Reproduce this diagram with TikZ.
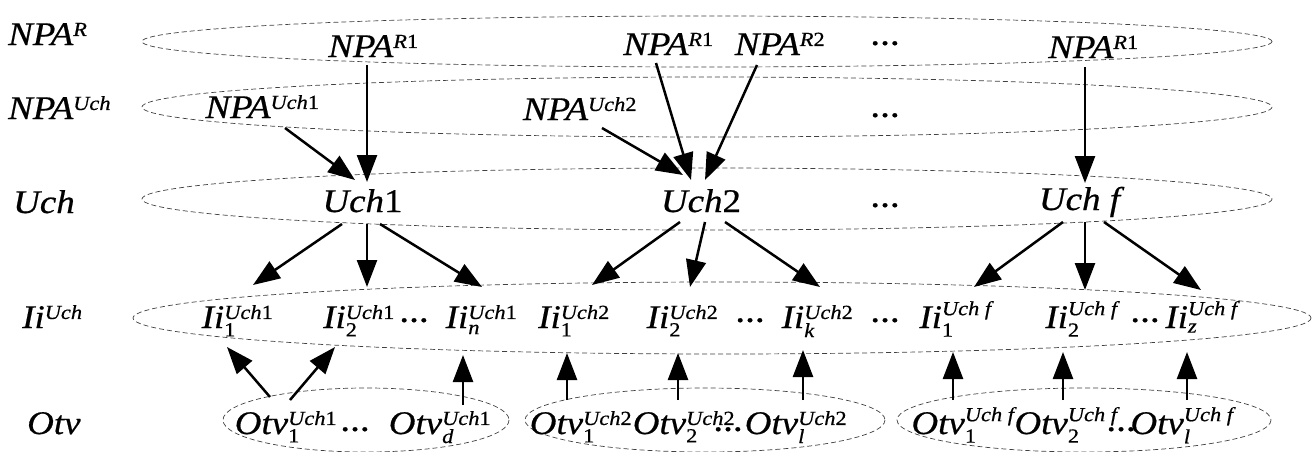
\documentclass[tikz,border=0pt]{standalone}
\usepackage{amsmath}
\usepackage{fontspec}
\newfontfamily\diafont{Liberation Serif}[FakeStretch=1.12, FakeBold=0.6]
\DeclareMathSizes{33}{33}{20}{15}
\usetikzlibrary{arrows.meta}
\newcommand{\supr}[1]{$^{\text{#1}}$}
\newcommand{\supsub}[2]{$^{\text{#1}}_{\text{#2}}$}
\begin{document}
\begin{tikzpicture}[x=1pt, y=-1pt,
        lbl/.style={inner sep=0pt, anchor=base, font=\diafont\fontsize{33}{40}\selectfont\itshape},
        rowlbl/.style={lbl, anchor=base west},
        etc/.style={inner sep=0pt, anchor=base, font=\diafont\fontsize{26}{30}\selectfont\bfseries},
        band/.style={draw=black!75, line width=0.7pt, dash pattern=on 5pt off 3pt},
        arrow/.style={-{Triangle[length=27pt,width=20pt]}, line width=2.5pt}
    ]
    \useasboundingbox (0,0) rectangle (1314,451);

    % levels
    \draw[band] (707,41.5) ellipse (565 and 25.5);
    \draw[band] (707,107) ellipse (565 and 30);
    \draw[band] (707,199) ellipse (565 and 31);
    \draw[band] (722,318) ellipse (589 and 36);
    \draw[band] (366,420) ellipse (143 and 32);
    \draw[band] (705,420) ellipse (180 and 32);
    \draw[band] (1084,420) ellipse (187 and 32);

    % row names
    \node[rowlbl] (lr) at (8,45) {NPA\supr{R}};
    \node[rowlbl] (lu) at (8,119) {NPA\supr{Uch}};
    \node[rowlbl] (lc) at (13,213) {Uch};
    \node[rowlbl] (li) at (22,328) {Ii\supr{Uch}};
    \node[rowlbl] (lo) at (27,434) {Otv};

    % NPA^R
    \node[lbl] (ra) at (373.5,57) {NPA\supr{R\textup{1}}};
    \node[lbl] (rb) at (668.5,55) {NPA\supr{R\textup{1}}};
    \node[lbl] (rc) at (780,55) {NPA\supr{R\textup{2}}};
    \node[lbl] (rd) at (1093.5,58) {NPA\supr{R\textup{1}}};
    \node[etc] (er) at (885,45) {\dots};

    % NPA^Uch
    \node[lbl] (ua) at (262.5,118) {NPA\supr{Uch\textup{1}}};
    \node[lbl] (ub) at (580,120) {NPA\supr{Uch\textup{2}}};
    \node[etc] (eu) at (885,117) {\dots};

    % Uch
    \node[lbl] (ca) at (362.5,212) {Uch\textup{1}};
    \node[lbl] (cb) at (701,212) {Uch\textup{2}};
    \node[lbl] (cf) at (1079.5,210) {Uch f};
    \node[etc] (ec) at (885,207) {\dots};

    % Ii^Uch
    \node[lbl] (ia1) at (237.5,328) {Ii\supsub{Uch\textup{1}}{\textup{1}}};
    \node[lbl] (ia2) at (359,328) {Ii\supsub{Uch\textup{1}}{\textup{2}}};
    \node[lbl] (ian) at (481.5,328) {Ii\supsub{Uch\textup{1}}{n}};
    \node[lbl] (ib1) at (574,328) {Ii\supsub{Uch\textup{2}}{\textup{1}}};
    \node[lbl] (ib2) at (682.5,328) {Ii\supsub{Uch\textup{2}}{\textup{2}}};
    \node[lbl] (ibk) at (817.5,328) {Ii\supsub{Uch\textup{2}}{k}};
    \node[lbl] (if1) at (955.5,328) {Ii\supsub{Uch f}{\textup{1}}};
    \node[lbl] (if2) at (1081.5,328) {Ii\supsub{Uch f}{\textup{2}}};
    \node[lbl] (ifz) at (1201.5,328) {Ii\supsub{Uch f}{z}};
    \node[etc] (ei1) at (414,322) {\dots};
    \node[etc] (ei2) at (750,322) {\dots};
    \node[etc] (ei3) at (885,322) {\dots};
    \node[etc] (ei4) at (1145,322) {\dots};

    % Otv
    \node[lbl] (oa1) at (286,434) {Otv\supsub{Uch\textup{1}}{\textup{1}}};
    \node[lbl] (oad) at (440,434) {Otv\supsub{Uch\textup{1}}{d}};
    \node[lbl] (ob1) at (581,434) {Otv\supsub{Uch\textup{2}}{\textup{1}}};
    \node[lbl] (ob2) at (684,434) {Otv\supsub{Uch\textup{2}}{\textup{2}}};
    \node[lbl] (obl) at (796,434) {Otv\supsub{Uch\textup{2}}{l}};
    \node[lbl] (of1) at (963,434) {Otv\supsub{Uch f}{\textup{1}}};
    \node[lbl] (of2) at (1066,434) {Otv\supsub{Uch f}{\textup{2}}};
    \node[lbl] (ofl) at (1182,434) {Otv\supsub{Uch f}{l}};
    \node[etc] (eo1) at (355,431) {\dots};
    \node[etc] (eo2) at (728,431) {\dots};
    \node[etc] (eo3) at (1121,431) {\dots};

    % NPA -> Uch
    \draw[arrow] ([shift={(-6.5,8)}]ra.base) -- ([shift={(4.5,-30)}]ca.base);
    \draw[arrow] ([shift={(22.5,10)}]ua.base) -- ([shift={(-7.5,-32)}]ca.base);
    \draw[arrow] ([shift={(-12.5,8)}]rb.base) -- ([shift={(-10,-32)}]cb.base);
    \draw[arrow] ([shift={(-23,10)}]rc.base) -- ([shift={(4,-32)}]cb.base);
    \draw[arrow] ([shift={(22,8)}]ub.base) -- ([shift={(-18,-37)}]cb.base);
    \draw[arrow] ([shift={(-8.5,9)}]rd.base) -- ([shift={(5.5,-27)}]cf.base);

    % Uch -> Ii
    \draw[arrow] ([shift={(-20.5,12)}]ca.base) -- ([shift={(15.5,-43)}]ia1.base);
    \draw[arrow] ([shift={(4.5,12)}]ca.base) -- ([shift={(8,-41)}]ia2.base);
    \draw[arrow] ([shift={(17.5,12)}]ca.base) -- ([shift={(0.5,-41)}]ian.base);
    \draw[arrow] ([shift={(-21,10)}]cb.base) -- ([shift={(18,-43)}]ib1.base);
    \draw[arrow] ([shift={(4,10)}]cb.base) -- ([shift={(7.5,-41)}]ib2.base);
    \draw[arrow] ([shift={(24,10)}]cb.base) -- ([shift={(2.5,-41)}]ibk.base);
    \draw[arrow] ([shift={(-16.5,12)}]cf.base) -- ([shift={(18.5,-41)}]if1.base);
    \draw[arrow] ([shift={(5.5,12)}]cf.base) -- ([shift={(3.5,-38)}]if2.base);
    \draw[arrow] ([shift={(24.5,12)}]cf.base) -- ([shift={(-0.5,-38)}]ifz.base);

    % Otv -> Ii
    \draw[arrow] ([shift={(-16,-37)}]oa1.base) -- ([shift={(-10.5,19)}]ia1.base);
    \draw[arrow] ([shift={(4,-34)}]oa1.base) -- ([shift={(-24,19)}]ia2.base);
    \draw[arrow] ([shift={(23,-29)}]oad.base) -- ([shift={(-18.5,27)}]ian.base);
    \draw[arrow] ([shift={(-14,-34)}]ob1.base) -- ([shift={(-7,25)}]ib1.base);
    \draw[arrow] ([shift={(-6,-34)}]ob2.base) -- ([shift={(-4.5,25)}]ib2.base);
    \draw[arrow] ([shift={(7,-34)}]obl.base) -- ([shift={(-14.5,22)}]ibk.base);
    \draw[arrow] ([shift={(-10,-34)}]of1.base) -- ([shift={(-2.5,24)}]if1.base);
    \draw[arrow] ([shift={(-3,-34)}]of2.base) -- ([shift={(-18.5,24)}]if2.base);
    \draw[arrow] ([shift={(5,-34)}]ofl.base) -- ([shift={(-14.5,24)}]ifz.base);
\end{tikzpicture}
\end{document}
